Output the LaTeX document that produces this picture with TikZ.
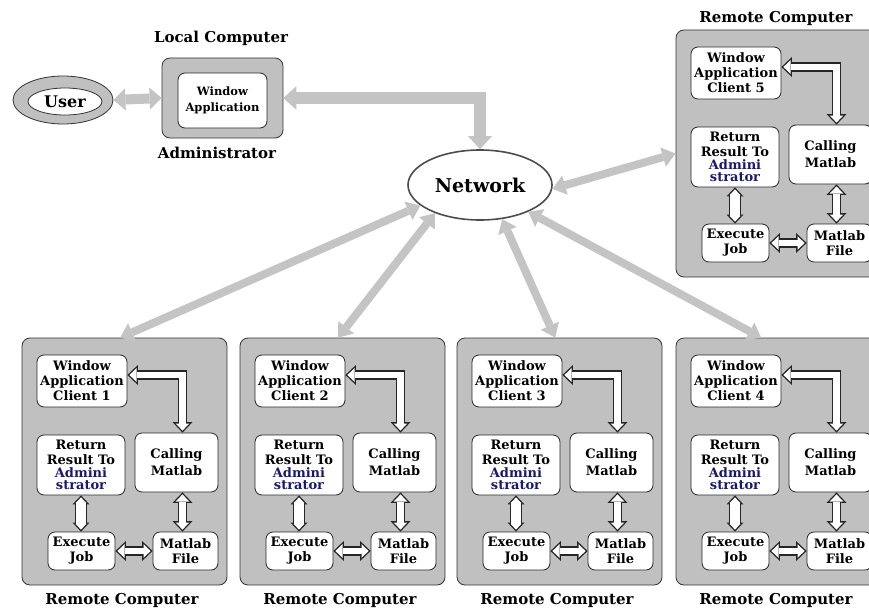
\documentclass[tikz,border=0pt]{standalone}
\usepackage{fontspec}
\setmainfont{DejaVu Serif}
\usetikzlibrary{arrows.meta,shapes.geometric,calc}

\definecolor{boxgray}{RGB}{192,192,192}
\definecolor{arrowgray}{RGB}{196,196,196}
\definecolor{adminblue}{RGB}{25,25,115}

\tikzset{
  outerbox/.style={draw=black!80, fill=boxgray, rounded corners=8pt, line width=0.8pt,
    minimum width=205pt, minimum height=247pt, inner sep=0pt},
  innerbox/.style={draw=black!85, fill=white, rounded corners=7pt, line width=0.8pt,
    align=center, inner sep=0pt, font=\bfseries\fontsize{13}{15}\selectfont},
  title/.style={font=\bfseries\fontsize{15}{18}\selectfont},
  bigarrow/.style={draw=arrowgray, line width=8pt,
    {Triangle[width=20pt,length=13pt,line width=0pt]}-{Triangle[width=20pt,length=13pt,line width=0pt]}},
  hollowout/.style={draw=black!85, line width=9.4pt,
    {Triangle[width=20pt,length=10.5pt,line width=0pt]}-{Triangle[width=20pt,length=10.5pt,line width=0pt]}},
  hollowin/.style={draw=white, line width=6.6pt, shorten <=2pt, shorten >=2pt,
    {Triangle[width=13.6pt,length=7.1pt,line width=0pt]}-{Triangle[width=13.6pt,length=7.1pt,line width=0pt]}},
  fatout/.style={draw=black!85, line width=12pt,
    {Triangle[width=17pt,length=9pt,line width=0pt]}-{Triangle[width=17pt,length=9pt,line width=0pt]}},
  fatin/.style={draw=white, line width=9.2pt, shorten <=2pt, shorten >=2pt,
    {Triangle[width=11pt,length=5.8pt,line width=0pt]}-{Triangle[width=11pt,length=5.8pt,line width=0pt]}},
}

% outlined white arrow: black pass, then white pass
\newcommand{\hollowarrow}[2][hollow]{\draw[#1out] #2; \draw[#1in] #2;}

\begin{document}
\begin{tikzpicture}[x=1pt,y=-1pt]
  \useasboundingbox (0,0) rectangle (869,610);

  % user and local computer
  \node[ellipse, draw=black!80, fill=boxgray, line width=0.8pt, minimum width=100pt, minimum height=48pt, inner sep=0pt] (user) at (63,100) {};
  \node[ellipse, draw=black!80, fill=white, line width=0.8pt, minimum width=74pt, minimum height=27pt, inner sep=0pt,
    font=\bfseries\fontsize{16}{18}\selectfont] (userin) at (65,101.5) {User};
  \node[draw=black!80, fill=boxgray, rounded corners=8pt, line width=0.8pt, minimum width=121pt, minimum height=80pt] (loc) at (222.5,98) {};
  \node[innerbox, minimum width=89pt, minimum height=55pt, font=\bfseries\fontsize{11.5}{16}\selectfont] (locwin) at (222.5,100.5) {Window\\Application};
  \node[title] (loctitle) at (221,38) {Local Computer};
  \node[title] (admin) at (217,153) {Administrator};

  % network
  \node[ellipse, draw=black!70, fill=white, line width=1.6pt, minimum width=144pt, minimum height=70pt, inner sep=0pt,
    font=\bfseries\fontsize{19}{22}\selectfont] (net) at (480,185) {Network};

  % remote computers
  \foreach \i/\bx/\by/\ty in {1/22/338/262, 2/240/338/262, 3/457/338/262, 4/676/338/262, 5/676/30/-12}{
    \node[outerbox] (b\i) at (\bx+102.5,\by+123.5) {};
    \node[title] (t\i) at (\bx+100,\by+\ty) {Remote Computer};
    \node[innerbox, minimum width=90pt, minimum height=52pt] (win\i) at (\bx+60,\by+43) {Window\\Application\\Client \i};
    \node[innerbox, minimum width=88pt, minimum height=60pt] (ret\i) at (\bx+59,\by+127)
      {Return\\[0pt]Result To\\[-2.5pt]{\color{adminblue}Admini}\\[-3pt]{\color{adminblue}strator}};
    \node[innerbox, minimum width=83pt, minimum height=59pt] (call\i) at (\bx+154.5,\by+124.5) {Calling\\[2pt]Matlab};
    \node[innerbox, minimum width=67pt, minimum height=38pt] (exe\i) at (\bx+59.5,\by+213) {Execute\\Job};
    \node[innerbox, minimum width=65pt, minimum height=38pt] (file\i) at (\bx+163.5,\by+213) {Matlab\\File};
    \hollowarrow{([yshift=6pt]win\i.east) -| ([xshift=-3pt]file\i.north |- call\i.north)}
    \hollowarrow{([xshift=-3pt]file\i.north) -- ([xshift=-3pt]file\i.north |- call\i.south)}
    \hollowarrow[fat]{(ret\i.south) -- (ret\i.south |- exe\i.north)}
    \hollowarrow{(exe\i.east) -- (file\i.west)}
  }

  % gray links
  \draw[bigarrow, line width=10pt, {Triangle[width=22pt,length=12pt,line width=0pt]}-{Triangle[width=22pt,length=12pt,line width=0pt]}] (user.east) -- (loc.west);
  \draw[bigarrow, line width=12pt, {Triangle[width=24pt,length=13pt,line width=0pt]}-{Triangle[width=24pt,length=13pt,line width=0pt]}] (loc.east) -| (net.north);
  \draw[bigarrow] (net.357) -- (b5.west);
  \draw[bigarrow] (net.199) -- (b1.92);
  \draw[bigarrow] (net.212) -- (b2.92);
  \draw[bigarrow] (net.303) -- (b3.92);
  \draw[bigarrow] (net.331) -- (b4.98);
\end{tikzpicture}
\end{document}
